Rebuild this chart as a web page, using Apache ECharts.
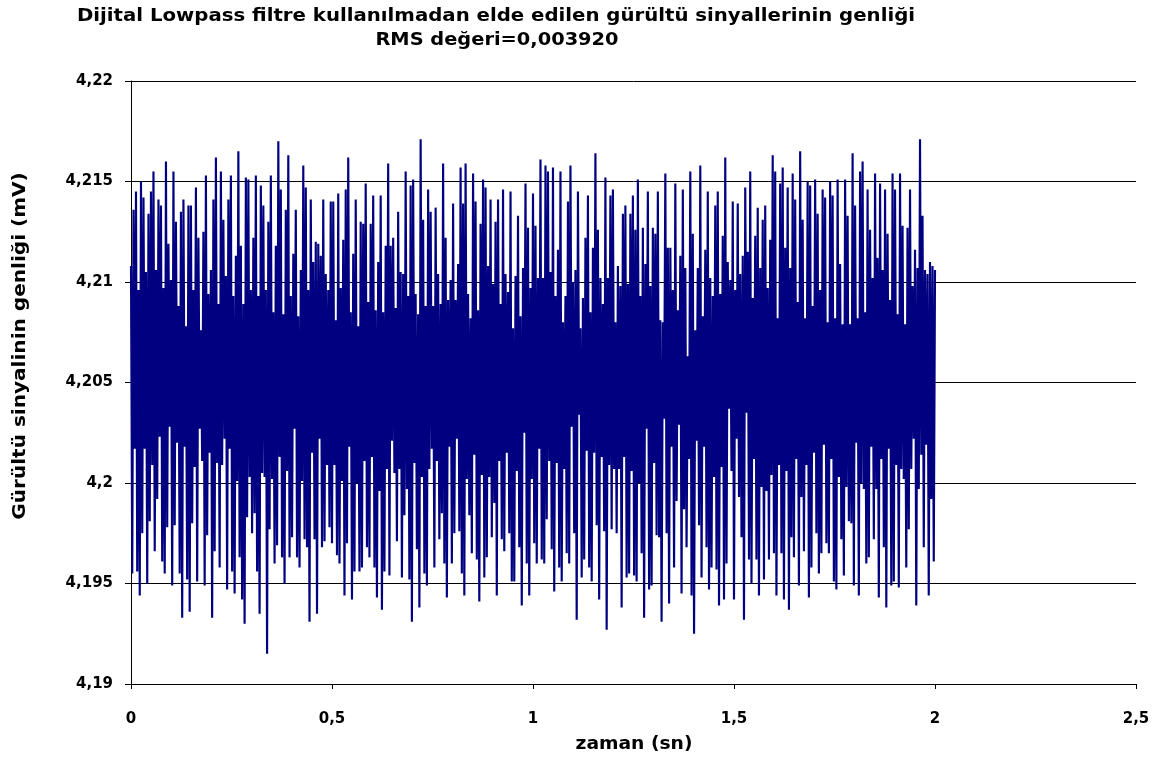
<!DOCTYPE html>
<html>
<head>
<meta charset="utf-8">
<script src="https://cdn.jsdelivr.net/npm/echarts@6/dist/echarts.min.js"></script>
<style>html,body{margin:0;padding:0;background:#ffffff}#chart{width:1169px;height:762px}</style>
</head>
<body>
<div id="chart"></div>
<script>
const chartTitle = 'Dijital Lowpass filtre kullanılmadan elde edilen gürültü sinyallerinin genliği';
const chartSubtitle = 'RMS değeri=0,003920';
const xAxisTitle = 'zaman (sn)';
const yAxisTitle = 'Gürültü sinyalinin genliği (mV)';
const xTicks = [0, 0.5, 1, 1.5, 2, 2.5];
const yTicks = [4.19, 4.195, 4.2, 4.205, 4.21, 4.215, 4.22];
const recordStart = 0;   // s
const recordEnd = 2;     // s

// upper swings of the noise (mV), in time order
const upperPeaks = [
4.2108,4.2136,4.2145,4.2096,4.2150,4.2142,4.2105,4.2134,4.2145,4.2155,
4.2106,4.2141,4.2138,4.2097,4.2160,4.2119,4.2101,4.2155,4.2130,4.2088,
4.2135,4.2141,4.2078,4.2138,4.2138,4.2096,4.2147,4.2122,4.2076,4.2125,
4.2153,4.2094,4.2106,4.2141,4.2162,4.2089,4.2155,4.2131,4.2103,4.2141,
4.2153,4.2093,4.2113,4.2165,4.2118,4.2089,4.2152,4.2151,4.2096,4.2122,
4.2153,4.2093,4.2148,4.2138,4.2096,4.2130,4.2153,4.2085,4.2118,4.2170,
4.2146,4.2084,4.2136,4.2163,4.2093,4.2114,4.2136,4.2083,4.2106,4.2158,
4.2147,4.2096,4.2141,4.2110,4.2120,4.2119,4.2113,4.2141,4.2104,4.2096,
4.2140,4.2140,4.2081,4.2144,4.2097,4.2121,4.2146,4.2162,4.2085,4.2114,
4.2141,4.2078,4.2130,4.2129,4.2149,4.2090,4.2129,4.2143,4.2086,4.2110,
4.2143,4.2085,4.2118,4.2159,4.2118,4.2122,4.2087,4.2135,4.2105,
4.2104,4.2155,4.2093,4.2148,4.2151,4.2094,4.2084,4.2171,4.2131,4.2088,
4.2146,4.2135,4.2088,4.2137,4.2104,4.2089,4.2159,4.2122,4.2091,4.2101,
4.2139,4.2091,4.2109,4.2157,4.2139,4.2159,4.2094,4.2082,4.2154,4.2140,
4.2086,4.2129,4.2151,4.2147,4.2108,4.2141,4.2099,4.2130,4.2141,4.2089,
4.2146,4.2104,4.2095,4.2145,4.2077,4.2103,4.2133,4.2083,4.2107,4.2149,
4.2127,4.2097,4.2144,4.2128,4.2102,4.2161,4.2102,4.2158,4.2155,4.2105,
4.2157,4.2093,4.2116,4.2155,4.2080,4.2093,4.2140,4.2158,4.2100,4.2106,
4.2145,4.2077,4.2092,4.2122,4.2143,4.2085,4.2117,4.2164,4.2126,4.2102,
4.2089,4.2152,4.2102,4.2143,4.2146,4.2080,4.2108,4.2098,4.2134,4.2138,
4.2099,4.2134,4.2143,4.2126,4.2151,4.2093,4.2127,4.2109,4.2145,4.2098,
4.2127,4.2124,4.2145,4.2081,4.2080,4.2154,4.2117,
4.2117,4.2096,4.2149,4.2086,4.2113,4.2146,4.2107,4.2063,4.2155,4.2124,
4.2076,4.2107,4.2158,4.2083,4.2116,4.2145,4.2102,4.2093,4.2138,4.2145,
4.2094,4.2123,4.2162,4.2110,4.2101,4.2140,4.2096,4.2139,4.2104,4.2113,
4.2147,4.2115,4.2155,4.2092,4.2123,4.2137,4.2107,4.2131,4.2138,4.2097,
4.2121,4.2163,4.2155,4.2082,4.2149,4.2157,4.2117,4.2147,4.2107,4.2154,
4.2141,4.2090,4.2165,4.2131,4.2082,4.2150,4.2148,4.2088,4.2151,4.2134,
4.2096,4.2146,4.2142,4.2080,4.2150,4.2143,4.2082,4.2151,4.2109,4.2079,
4.2151,4.2133,4.2079,4.2164,4.2138,4.2082,4.2155,4.2160,4.2085,4.2146,
4.2126,4.2102,4.2154,4.2112,4.2149,4.2106,4.2146,4.2124,4.2091,4.2154,
4.2146,4.2084,4.2154,4.2128,4.2079,4.2127,4.2146,4.2098,4.2116,4.2107,
4.2171,4.2133,4.2106,4.2104,4.2110,4.2108,4.2106
];

// lower swings of the noise (mV), in time order
const lowerPeaks = [
4.1955,4.2017,4.1956,4.1944,4.1975,4.2017,4.1950,4.1981,4.2009,4.1966,
4.1992,4.2023,4.1961,4.1955,4.1978,4.2028,4.1949,4.1979,4.2020,4.1955,
4.1933,4.2018,4.1952,4.1936,4.1980,4.2008,4.1951,4.2027,4.2011,4.1949,
4.1974,4.2015,4.1933,4.1966,4.2010,4.1958,4.2009,4.2022,4.1947,4.2017,
4.1956,4.1945,4.2001,4.1963,4.1942,4.1930,4.1983,4.2003,4.1975,4.1985,
4.1956,4.1935,4.2005,4.2003,4.1915,
4.1977,4.2002,4.1960,4.1969,4.2013,4.1963,4.1950,4.2006,4.1963,4.1973,
4.2027,4.1963,4.1958,4.2001,4.1972,4.1968,4.1931,4.2015,4.1972,4.1935,
4.2022,4.1968,4.1971,4.2009,4.1978,4.1970,4.2009,4.1964,4.1960,4.2001,
4.1944,4.1970,4.2018,4.1942,4.1956,4.2000,4.1956,4.1958,4.2011,4.1968,
4.1963,4.2013,4.1958,4.1943,4.1996,4.1937,4.1956,4.2007,4.1954,
4.2021,4.2005,4.1971,4.2007,4.1953,4.1984,4.1997,4.1952,4.1931,4.2010,
4.1967,4.1938,4.2003,4.1955,4.1949,4.2007,4.2017,4.1958,4.2011,4.1972,
4.1985,
4.1960,4.1943,4.2018,4.1960,4.1975,4.2022,4.1976,4.1955,4.1944,4.2002,
4.1984,4.1965,4.2014,4.1962,4.1941,4.2004,4.1953,4.1963,4.2003,4.1973,
4.1990,
4.1944,4.2011,4.1972,4.1966,4.2015,4.1975,4.1951,4.1951,4.2006,4.1968,
4.1939,4.2025,4.1960,4.1944,4.2002,4.1970,4.1960,4.2017,4.1962,4.1960,
4.1982,
4.2011,4.1967,4.1946,4.2010,4.1958,4.1951,4.2007,4.1965,4.1960,4.2028,
4.1975,4.1932,4.2034,4.1953,4.1962,4.2016,4.1958,4.1951,4.2015,4.1979,
4.1942,4.2013,4.1976,4.1927,4.2009,4.1977,4.2007,4.1975,4.2007,4.1938,
4.2013,4.1953,4.1955,4.2006,4.1954,4.1951,4.2000,4.1965,4.1933,4.2027,
4.1947,4.1949,4.2010,4.1974,
4.1973,4.1931,4.2032,4.1975,4.1940,4.2018,4.1958,4.1991,4.2029,4.1945,
4.1987,
4.1968,4.2012,4.1944,4.1925,4.2021,4.1979,4.1953,4.2018,4.1968,4.1947,
4.1958,
4.2003,4.1957,4.1939,4.2008,4.1942,4.1960,4.2037,4.2006,4.1942,4.2022,
4.1993,
4.1973,4.1932,4.2035,4.1962,4.1950,4.2012,4.1962,4.1944,4.1998,4.1952,
4.1996,
4.1962,4.2004,4.1965,4.1944,4.2009,4.1965,4.1942,4.2006,4.1937,4.1973,
4.1963,
4.2012,4.1949,4.1993,4.1966,4.2009,4.1943,4.1958,4.2015,4.1975,4.1955,
4.1965,
4.2019,4.1970,4.1965,4.2012,4.1951,4.1947,4.2003,4.1972,4.1954,4.1998,
4.1981,
4.1980,4.1949,4.2020,4.1944,4.2000,4.1997,4.1960,4.1963,4.2018,4.1972,
4.1997,
4.1943,4.2012,4.1968,4.1938,4.2017,4.1949,4.1951,4.2009,4.1948,4.2007,
4.2002,
4.1958,4.1977,4.2007,4.2022,4.1939,4.1997,4.2014,4.1968,4.2019,4.1944,
4.1992,
4.1961
];

// interleave the swings into one time-ordered trace
const values = [];
for (let i = 0; i < upperPeaks.length; i++) {
  values.push(upperPeaks[i]);
  if (i < lowerPeaks.length) values.push(lowerPeaks[i]);
}
const step = (recordEnd - recordStart) / (values.length - 1);
const seriesData = values.map((v, k) => [recordStart + k * step, v]);

const fmt = v => String(+(+v).toFixed(4)).replace('.', ',');
const FONT = '"DejaVu Sans", sans-serif';

const chart = echarts.init(document.getElementById('chart'), null, { renderer: 'canvas' });
chart.setOption({
  animation: false,
  backgroundColor: '#ffffff',
  grid: { left: 131, right: 33, top: 81, bottom: 78, containLabel: false },
  xAxis: {
    type: 'value',
    min: xTicks[0], max: xTicks[xTicks.length - 1], interval: 0.5,
    axisLine: { show: true, lineStyle: { color: '#000', width: 1 } },
    axisTick: { show: true, length: 5, lineStyle: { color: '#000' } },
    axisLabel: { formatter: fmt, margin: 28, fontFamily: FONT, fontWeight: 'bold', fontSize: 15, color: '#000' },
    splitLine: { show: false }
  },
  yAxis: {
    type: 'value',
    min: yTicks[0], max: yTicks[yTicks.length - 1], interval: 0.005,
    axisLine: { show: true, lineStyle: { color: '#000', width: 1 } },
    axisTick: { show: true, length: 6, lineStyle: { color: '#000' } },
    axisLabel: { formatter: fmt, margin: 18, fontFamily: FONT, fontWeight: 'bold', fontSize: 15, color: '#000' },
    splitLine: { show: true, lineStyle: { color: '#000', width: 1 } }
  },
  graphic: [
    { type: 'text', x: 496, y: 17, scaleX: 1.16, style: { text: chartTitle, fill: '#000', font: 'bold 17px ' + FONT, textAlign: 'center', textVerticalAlign: 'middle' } },
    { type: 'text', x: 497, y: 41, scaleX: 1.14, style: { text: chartSubtitle, fill: '#000', font: 'bold 17px ' + FONT, textAlign: 'center', textVerticalAlign: 'middle' } },
    { type: 'text', x: 21, y: 346, rotation: Math.PI / 2, scaleX: 1.18, style: { text: yAxisTitle, fill: '#000', font: 'bold 17px ' + FONT, textAlign: 'center', textVerticalAlign: 'middle' } },
    { type: 'text', x: 634, y: 745, scaleX: 1.1, style: { text: xAxisTitle, fill: '#000', font: 'bold 17px ' + FONT, textAlign: 'center', textVerticalAlign: 'middle' } }
  ],
  series: [{
    type: 'line',
    data: seriesData,
    showSymbol: false,
    symbol: 'none',
    lineStyle: { color: '#000080', width: 2.15 },
    emphasis: { disabled: true },
    z: 3
  }]
});
</script>
</body>
</html>
